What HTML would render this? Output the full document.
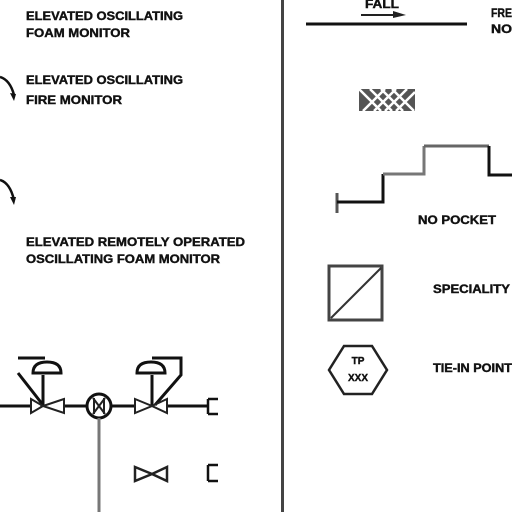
<!DOCTYPE html>
<html><head><style>
html,body{margin:0;padding:0;background:#fff;width:512px;height:512px;overflow:hidden}
svg text{font-family:"Liberation Sans",sans-serif;font-weight:bold;fill:#111;stroke:#111;stroke-width:0.4}
</style></head><body>
<svg width="512" height="512" viewBox="0 0 512 512" xmlns="http://www.w3.org/2000/svg">
<rect x="281" y="0" width="3" height="512" fill="#444"/>
<g font-size="11.5">
<text x="26" y="20" textLength="157" lengthAdjust="spacingAndGlyphs">ELEVATED OSCILLATING</text>
<text x="26" y="37" textLength="104" lengthAdjust="spacingAndGlyphs">FOAM MONITOR</text>
<text x="26" y="84" textLength="157" lengthAdjust="spacingAndGlyphs">ELEVATED OSCILLATING</text>
<text x="26" y="104" textLength="96" lengthAdjust="spacingAndGlyphs">FIRE MONITOR</text>
<text x="26" y="246" textLength="219" lengthAdjust="spacingAndGlyphs">ELEVATED REMOTELY OPERATED</text>
<text x="26" y="263" textLength="194" lengthAdjust="spacingAndGlyphs">OSCILLATING FOAM MONITOR</text>
<text x="365" y="8" textLength="34" lengthAdjust="spacingAndGlyphs">FALL</text>
<text x="491" y="17" textLength="21" lengthAdjust="spacingAndGlyphs">FRE</text>
<text x="491" y="33" textLength="21" lengthAdjust="spacingAndGlyphs">NO</text>
<text x="418" y="224" textLength="78" lengthAdjust="spacingAndGlyphs">NO POCKET</text>
<text x="433" y="293" textLength="77" lengthAdjust="spacingAndGlyphs">SPECIALITY</text>
<text x="433" y="372" textLength="79" lengthAdjust="spacingAndGlyphs">TIE-IN POINT</text>
</g>
<g fill="none" stroke="#111" stroke-width="2.5">
<path d="M0 77 Q10 80 14 95"/>
<path d="M0 180 Q10 183 14 200"/>
</g>
<path d="M10 93 L16 94 L14 101Z" fill="#111"/>
<path d="M10 197 L16 197 L14 205Z" fill="#111"/>
<g stroke="#111" stroke-width="3" fill="none">
<line x1="0" y1="406" x2="31" y2="406"/>
<line x1="64" y1="406" x2="86" y2="406"/>
<line x1="112" y1="406" x2="135" y2="406"/>
<line x1="167" y1="406" x2="208" y2="406"/>
<line x1="43" y1="406" x2="43" y2="375"/>
<line x1="152" y1="406" x2="152" y2="375"/>
<path d="M18 358 H45"/><path d="M18 373 L43 405"/>
<path d="M152 358 H181 V375 L155 405"/>
<path d="M33 373 Q33 362 47 362 Q61 362 61 373 Z"/>
<path d="M137 373 Q137 362 151 362 Q165 362 165 373 Z"/>
<circle cx="99" cy="406" r="12"/>
<path d="M208 399 V414 M208 399 H218 M208 414 H218" stroke-width="2.5"/>
<path d="M208 465 V481 M208 465 H218 M208 481 H218" stroke-width="2.5"/>
</g>
<g stroke="#222" stroke-width="2" fill="none">
<path d="M31 399 L43 406 L31 413Z M64 399 L43 406 L64 413Z"/>
<path d="M135 399 L152 406 L135 413Z M167 399 L152 406 L167 413Z"/>
<path d="M135 467 L152 474 L135 481Z M167 467 L152 474 L167 481Z" stroke-width="2.5"/>
<path d="M93 398 L105 414 M105 398 L93 414 M94 398 V414 M104 398 V414"/>
</g>
<line x1="99" y1="418" x2="99" y2="512" stroke="#777" stroke-width="3"/>
<line x1="306" y1="24" x2="467" y2="24" stroke="#111" stroke-width="3"/>
<line x1="361" y1="15" x2="400" y2="15" stroke="#222" stroke-width="2"/>
<path d="M393 11 L406 15 L393 18Z" fill="#222"/>
<g>
<rect x="359" y="89" width="56" height="22" fill="#555"/>
<path d="M359 89 L381 111 M370 89 L392 111 M381 89 L403 111 M392 89 L414 111 M363 111 L385 89 M374 111 L396 89 M385 111 L407 89 M396 111 L415 92" stroke="#fff" stroke-width="2.5"/>
</g>
<g fill="none" stroke-width="3">
<path d="M337 193 V213" stroke="#555"/>
<path d="M337 202 H383 V174" stroke="#111"/>
<path d="M383 174 H424 V146" stroke="#777"/>
<path d="M424 146 H489" stroke="#666"/>
<path d="M489 146 V175 H512" stroke="#111"/>
</g>
<rect x="329" y="266" width="53" height="54" fill="none" stroke="#444" stroke-width="3"/>
<line x1="331" y1="318" x2="381" y2="268" stroke="#333" stroke-width="2"/>
<polygon points="344,346 372,346 387,370 372,394 344,394 329,370" fill="none" stroke="#222" stroke-width="2.5"/>
<text x="358" y="364" font-size="10" text-anchor="middle">TP</text>
<text x="358" y="381" font-size="10" text-anchor="middle" textLength="20" lengthAdjust="spacingAndGlyphs">XXX</text>
</svg>
</body></html>
